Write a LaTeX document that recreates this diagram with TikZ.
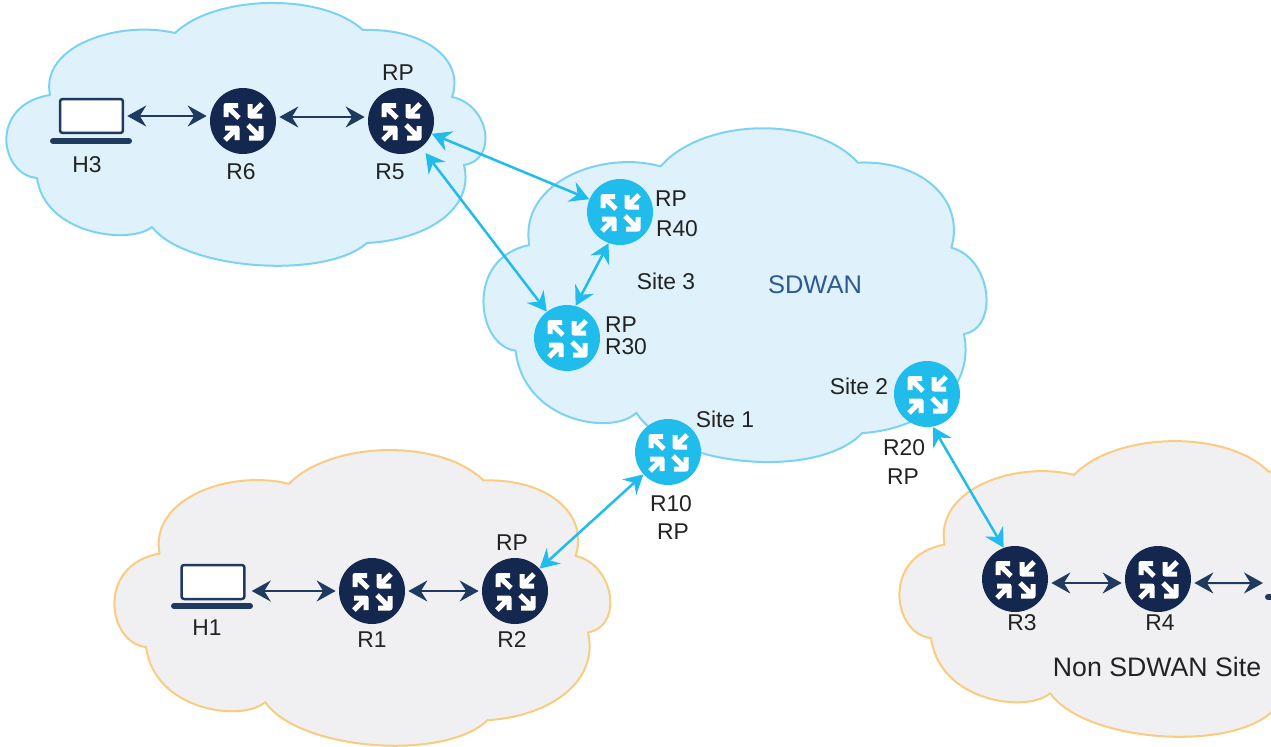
\documentclass[tikz,border=0pt]{standalone}
\usepackage{fontspec}
\setmainfont{Liberation Sans}
\usetikzlibrary{arrows.meta}
\definecolor{navyrouter}{HTML}{14274E}
\definecolor{cyanrouter}{HTML}{1FBCEC}
\definecolor{linkdark}{HTML}{1F3A5F}
\definecolor{bluefill}{HTML}{DFF1FA}
\definecolor{blueedge}{HTML}{7CD3F1}
\definecolor{greyfill}{HTML}{F0F0F2}
\definecolor{orangeedge}{HTML}{F9CC80}
\definecolor{labelink}{HTML}{222222}
\definecolor{sdwanink}{HTML}{2F5A8F}
\newcommand{\cloudoutline}{(175,33) .. controls (215,-5) and (321,-8) .. (363,30)
	.. controls (425,28) and (465,60) .. (452,97)
	.. controls (490,105) and (498,160) .. (464,165)
	.. controls (475,210) and (425,240) .. (367,243)
	.. controls (325,280) and (185,270) .. (152,227)
	.. controls (130,245) and (45,235) .. (37,178)
	.. controls (0,175) and (-12,105) .. (50,95)
	.. controls (40,45) and (120,20) .. (175,33) -- cycle}
\newcommand{\routerarrows}{
	\draw[white, line width=.1cm, shift={(path picture bounding box.center)}]
		(-17,-4) -- (-17,-15.5) -- (-5,-15.5) (-17,-15.5) -- (-4,-3)
		(7,-17) -- (7,-5) -- (19,-5) (7,-5) -- (19,-17)
		(-18,7) -- (-6,7) -- (-6,19) (-6,7) -- (-18,19)
		(18,5) -- (18,17) -- (6,17) (18,17) -- (5,4);
}
\tikzset{
	bluecloud/.style={draw=blueedge, fill=bluefill, line width=.04cm},
	greycloud/.style={draw=orangeedge, fill=greyfill, line width=.04cm},
	router/.style={circle, minimum size=1.32cm, inner sep=0pt, path picture={\routerarrows}},
	navynode/.style={router, fill=navyrouter},
	cyannode/.style={router, fill=cyanrouter},
	laptop/.style={draw=linkdark, fill=white, line width=.05cm, rounded corners=1.5pt, minimum width=1.26cm, minimum height=.68cm, inner sep=0pt},
	laptopbase/.style={draw=linkdark, line width=.12cm, line cap=round},
	darklink/.style={draw=linkdark, line width=.04cm, {Stealth[length=.38cm,width=.42cm,inset=.13cm]}-{Stealth[length=.38cm,width=.42cm,inset=.13cm]}, shorten <=.06cm, shorten >=.06cm},
	cyanlink/.style={draw=cyanrouter, line width=.05cm, {Stealth[length=.38cm,width=.42cm,inset=.13cm]}-{Stealth[length=.38cm,width=.42cm,inset=.13cm]}},
	lbl/.style={text=labelink, inner sep=0pt}
}
\begin{document}
\begin{tikzpicture}[x=.02cm, y=-.02cm, font=\fontsize{13}{15}\selectfont, line join=round]
	\useasboundingbox (0,0) rectangle (1271,747);
	\clip (0,0) rectangle (1271,747);
	% clouds
	\draw[bluecloud] \cloudoutline;
	\draw[bluecloud, shift={(476.75,124.5)}, xscale=1.05, yscale=1.27] \cloudoutline;
	\draw[greycloud, shift={(107.8,446.75)}, xscale=1.035, yscale=1.125] \cloudoutline;
	\draw[greycloud, shift={(892.8,437.8)}, xscale=1.035, yscale=1.125] \cloudoutline;
	% hosts
	\node[laptop] (h3) at (91.5,116){};
	\draw[laptopbase] (53,141) -- (129,141);
	\node[laptop] (h1) at (213,582){};
	\draw[laptopbase] (174,606) -- (250,606);
	\draw[laptopbase] (1268,597) -- (1280,597);
	\coordinate (hedge) at (1266,583);
	% routers
	\node[navynode] (r6) at (243,121){};
	\node[navynode] (r5) at (401,121){};
	\node[cyannode] (r40) at (620,212){};
	\node[cyannode] (r30) at (567,338){};
	\node[cyannode] (r10) at (668,452){};
	\node[cyannode] (r20) at (927,394){};
	\node[navynode] (r1) at (372,591){};
	\node[navynode] (r2) at (515,591){};
	\node[navynode] (r3) at (1015,579){};
	\node[navynode] (r4) at (1158,579){};
	% links
	\draw[darklink] (h3.east) -- (h3.east -| r6.west);
	\draw[darklink] ([yshift=.08cm]r6.east) -- ([yshift=.08cm]r5.west);
	\draw[darklink] ([xshift=.06cm]h1.east |- r1.west) -- (r1.west);
	\draw[darklink] (r1.east) -- (r2.west);
	\draw[darklink] ([yshift=-.08cm]r3.east) -- ([yshift=-.08cm]r4.west);
	\draw[darklink] ([yshift=-.08cm]r4.east) -- (hedge);
	\draw[cyanlink] (r5) -- (r40);
	\draw[cyanlink, shorten <=.14cm] (r5) -- (r30);
	\draw[cyanlink] (r40.-110) -- (r30.75);
	\draw[cyanlink] (r10) -- (r2);
	\draw[cyanlink] (r20.-80) -- (r3.110);
	% labels
	\node[lbl] (lh3) at (87,165){H3};
	\node[lbl] (lr6) at (241,172){R6};
	\node[lbl] (lr5) at (390,172){R5};
	\node[lbl] (rp5) at (398,73){RP};
	\node[lbl] (rp40) at (671,199){RP};
	\node[lbl] (lr40) at (677,229){R40};
	\node[lbl] (site3) at (666,281){Site 3};
	\node[lbl, text=sdwanink, font=\fontsize{14.5}{16}\selectfont] (sdwan) at (815,285){SDWAN};
	\node[lbl] (rp30) at (621,325){RP};
	\node[lbl] (lr30) at (626,347){R30};
	\node[lbl] (site1) at (725,419){Site 1};
	\node[lbl] (site2) at (859,386){Site 2};
	\node[lbl] (lr20) at (904,448){R20};
	\node[lbl] (rp20) at (903,477){RP};
	\node[lbl] (lr10) at (671,504){R10};
	\node[lbl] (rp10) at (673,532){RP};
	\node[lbl] (rp2) at (512,543){RP};
	\node[lbl] (lr2) at (512,640){R2};
	\node[lbl] (lr1) at (372,640){R1};
	\node[lbl] (lh1) at (207,628){H1};
	\node[lbl] (lr3) at (1022,623){R3};
	\node[lbl] (lr4) at (1160,623){R4};
	\node[lbl, font=\fontsize{15.2}{17}\selectfont] (nonsite) at (1157,667){Non SDWAN Site};
\end{tikzpicture}
\end{document}
